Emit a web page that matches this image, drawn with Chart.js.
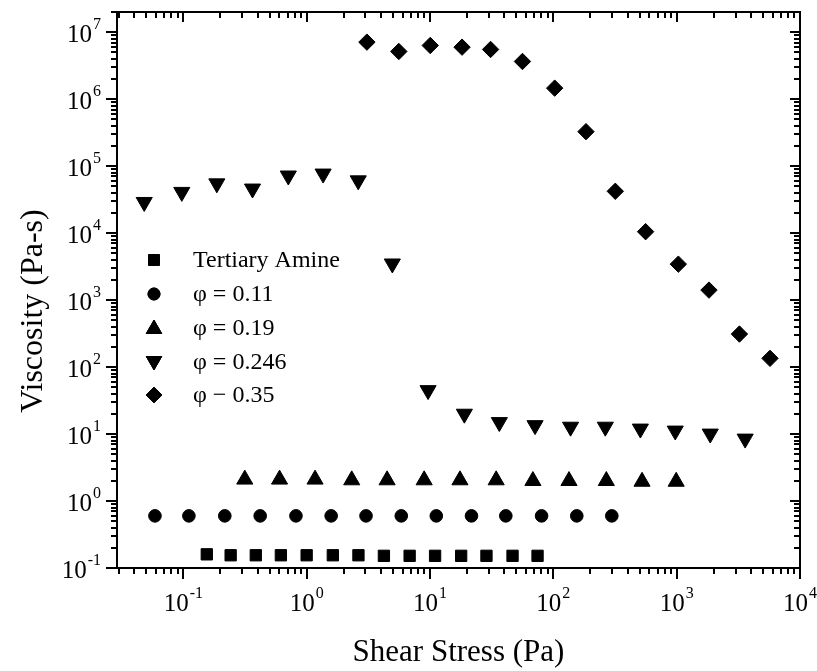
<!DOCTYPE html>
<html>
<head>
<meta charset="utf-8">
<script src="https://cdn.jsdelivr.net/npm/chart.js@4"></script>
<style>
  html, body { margin: 0; padding: 0; background: #fff; }
  #wrap { width: 817px; height: 671px; }
</style>
</head>
<body>
<div id="wrap"><canvas id="c" width="817" height="671"></canvas></div>
<script>
// ---------------- data ----------------
const seriesLabels = ['Tertiary Amine', 'φ = 0.11', 'φ = 0.19', 'φ = 0.246', 'φ − 0.35'];

const tertiaryX = [0.155, 0.242, 0.387, 0.618, 1.0, 1.63, 2.63, 4.23, 6.84, 11.0, 17.9, 28.7, 46.7, 74.5];
const tertiaryY = [0.16, 0.155, 0.155, 0.155, 0.155, 0.155, 0.155, 0.152, 0.152, 0.152, 0.152, 0.152, 0.152, 0.152];

const phi011X = [0.0589, 0.111, 0.217, 0.420, 0.819, 1.58, 3.03, 5.85, 11.25, 21.7, 41.2, 80.3, 155, 298];
const phi011Y = [0.6, 0.6, 0.6, 0.6, 0.6, 0.6, 0.6, 0.6, 0.6, 0.6, 0.6, 0.6, 0.6, 0.6];

const phi019X = [0.315, 0.603, 1.17, 2.32, 4.49, 8.97, 17.5, 34.4, 68.3, 134, 269, 524, 991];
const phi019Y = [2.1, 2.1, 2.1, 2.05, 2.05, 2.05, 2.05, 2.05, 2.0, 2.0, 2.0, 1.95, 1.95];

const phi0246X = [0.0482, 0.0972, 0.187, 0.364, 0.710, 1.36, 2.62, 4.95, 9.65, 19.0, 36.5, 71.1, 138, 264, 508, 974, 1872, 3592];
const phi0246Y = [29000, 41000, 55000, 46000, 72000, 77000, 61000, 3500, 45, 20, 15, 13.5, 12.8, 12.8, 12, 11.2, 10.1, 8.5];

const phi035X = [3.08, 5.59, 10.05, 18.2, 31.0, 56.2, 102.6, 184, 318, 560, 1032, 1828, 3228, 5713];
const phi035Y = [7.1e6, 5.15e6, 6.33e6, 5.97e6, 5.52e6, 3.65e6, 1.46e6, 3.27e5, 4.21e4, 1.05e4, 3440, 1410, 311, 135];

// axis ranges and tick labels (decade exponents)
const xRange = [0.029, 10000];
const yRange = [0.1, 2e7];
const xTickExponents = [-1, 0, 1, 2, 3, 4];
const yTickExponents = [-1, 0, 1, 2, 3, 4, 5, 6, 7];

const xTitle = 'Shear Stress (Pa)';
const yTitle = 'Viscosity (Pa-s)';

// ---------------- helpers ----------------
const SERIF = "'Liberation Serif', 'Times New Roman', 'DejaVu Serif', serif";

function zip(xs, ys) { return xs.map((x, i) => ({ x: x, y: ys[i] })); }

function logTicks(min, max) {
  const out = [];
  const e0 = Math.floor(Math.log10(min));
  const e1 = Math.ceil(Math.log10(max));
  for (let e = e0; e <= e1; e++) {
    for (let m = 1; m <= 9; m++) {
      const v = parseFloat((m * Math.pow(10, e)).toPrecision(6));
      if (v >= min * 0.9999 && v <= max * 1.0001) out.push({ value: v, major: m === 1 });
    }
  }
  return out;
}

const markerStyles = [
  { pointStyle: 'rect', radius: 8, rotation: 0 },
  { pointStyle: 'circle', radius: 6.3, rotation: 0 },
  { pointStyle: 'triangle', radius: 9.3, rotation: 0 },
  { pointStyle: 'triangle', radius: 9.3, rotation: 180 },
  { pointStyle: 'rectRot', radius: 8.2, rotation: 0 }
];

const seriesData = [
  zip(tertiaryX, tertiaryY),
  zip(phi011X, phi011Y),
  zip(phi019X, phi019Y),
  zip(phi0246X, phi0246Y),
  zip(phi035X, phi035Y)
];

const datasets = seriesData.map((d, i) => ({
  label: seriesLabels[i],
  data: d,
  pointStyle: markerStyles[i].pointStyle,
  pointRadius: markerStyles[i].radius,
  pointHoverRadius: markerStyles[i].radius,
  pointRotation: markerStyles[i].rotation,
  backgroundColor: '#000',
  borderColor: '#000',
  borderWidth: 1,
  showLine: false
}));

// ---------------- plugins ----------------
function drawPow(ctx, exp, x, y, align) {
  const baseFont = '25px ' + SERIF;
  const expFont = '16px ' + SERIF;
  ctx.font = baseFont;
  const wb = ctx.measureText('10').width;
  ctx.font = expFont;
  const es = String(exp);
  const we = ctx.measureText(es).width;
  const total = wb + 1 + we;
  const x0 = align === 'center' ? x - total / 2 : x - total;
  ctx.textAlign = 'left';
  ctx.textBaseline = 'middle';
  ctx.font = baseFont;
  ctx.fillText('10', x0, y + 3);
  ctx.font = expFont;
  ctx.fillText(es, x0 + wb + 1, y - 7);
}

const frameTicks = {
  id: 'frameTicks',
  afterDraw(chart) {
    const { ctx, chartArea: a, scales } = chart;
    const x = scales.x, y = scales.y;
    ctx.save();
    ctx.strokeStyle = '#000';
    ctx.fillStyle = '#000';
    ctx.lineWidth = 2;
    ctx.lineCap = 'butt';
    ctx.beginPath();
    ctx.rect(a.left, a.top, a.right - a.left, a.bottom - a.top);
    ctx.stroke();

    function seg(x1, y1, x2, y2) { ctx.moveTo(x1, y1); ctx.lineTo(x2, y2); }
    ctx.beginPath();
    x.ticks.forEach(t => {
      const px = Math.round(x.getPixelForValue(t.value));
      if (px < a.left - 0.5 || px > a.right + 0.5) return;
      const lo = t.major ? 11 : 6;
      const li = t.major ? 10 : 6;
      seg(px, a.bottom, px, a.bottom + lo);
      seg(px, a.top, px, a.top + li);
    });
    y.ticks.forEach(t => {
      const py = Math.round(y.getPixelForValue(t.value));
      if (py < a.top - 0.5 || py > a.bottom + 0.5) return;
      const lo = t.major ? 11 : 6;
      const li = t.major ? 10 : 6;
      seg(a.left, py, a.left - lo, py);
      seg(a.right, py, a.right - li, py);
    });
    ctx.stroke();

    // decade labels
    xTickExponents.forEach(e => {
      const px = x.getPixelForValue(Math.pow(10, e));
      drawPow(ctx, e, px, a.bottom + 33, 'center');
    });
    yTickExponents.forEach(e => {
      const py = y.getPixelForValue(Math.pow(10, e));
      drawPow(ctx, e, a.left - 16, py, 'right');
    });

    // y-axis title (rotated), placed as in the reference
    ctx.save();
    ctx.translate(34, 311);
    ctx.rotate(-Math.PI / 2);
    ctx.font = '32px ' + SERIF;
    ctx.textAlign = 'center';
    ctx.textBaseline = 'middle';
    ctx.fillText(yTitle, 0, 0);
    ctx.restore();

    ctx.restore();
  }
};

function drawMarker(ctx, style, r, rot, cx, cy) {
  if (Chart.helpers && Chart.helpers.drawPoint) {
    Chart.helpers.drawPoint(ctx, { pointStyle: style, radius: r, rotation: rot, borderWidth: 1 }, cx, cy);
    ctx.fill();
    ctx.stroke();
    return;
  }
  ctx.beginPath();
  ctx.arc(cx, cy, r, 0, Math.PI * 2);
  ctx.fill();
}

const insideLegend = {
  id: 'insideLegend',
  afterDraw(chart) {
    const { ctx } = chart;
    const rowsY = [260, 294, 328, 362, 395];
    ctx.save();
    ctx.fillStyle = '#000';
    ctx.strokeStyle = '#000';
    ctx.lineWidth = 1;
    chart.data.datasets.forEach((ds, i) => {
      const cy = rowsY[i];
      const ms = markerStyles[i];
      ctx.fillStyle = '#000';
      drawMarker(ctx, ds.pointStyle, ms.radius * 0.95, ms.rotation, 154, cy + (i === 2 ? 1 : i === 3 ? -1 : 0));
      ctx.font = '24px ' + SERIF;
      ctx.textAlign = 'left';
      ctx.textBaseline = 'middle';
      ctx.fillText(ds.label, 193, cy + 1);
    });
    ctx.restore();
  }
};

// ---------------- chart ----------------
new Chart(document.getElementById('c'), {
  type: 'scatter',
  data: { datasets: datasets },
  plugins: [frameTicks, insideLegend],
  options: {
    responsive: false,
    animation: false,
    devicePixelRatio: 1,
    layout: { padding: { left: 0, right: 17, top: 12, bottom: 0 } },
    plugins: {
      legend: { display: false },
      tooltip: { enabled: false }
    },
    scales: {
      x: {
        type: 'logarithmic',
        position: 'bottom',
        min: xRange[0],
        max: xRange[1],
        grid: { display: false },
        border: { display: false },
        ticks: { display: false },
        afterBuildTicks: s => { s.ticks = logTicks(xRange[0], xRange[1]); },
        afterFit: s => { s.height = 103; },
        title: {
          display: true,
          text: xTitle,
          color: '#000',
          font: { family: SERIF, size: 31 },
          padding: { top: 0, bottom: 0 }
        }
      },
      y: {
        type: 'logarithmic',
        position: 'left',
        min: yRange[0],
        max: yRange[1],
        grid: { display: false },
        border: { display: false },
        ticks: { display: false },
        afterBuildTicks: s => { s.ticks = logTicks(yRange[0], yRange[1]); },
        afterFit: s => { s.width = 117; },
        title: { display: false, text: yTitle }
      }
    }
  }
});
</script>
</body>
</html>
